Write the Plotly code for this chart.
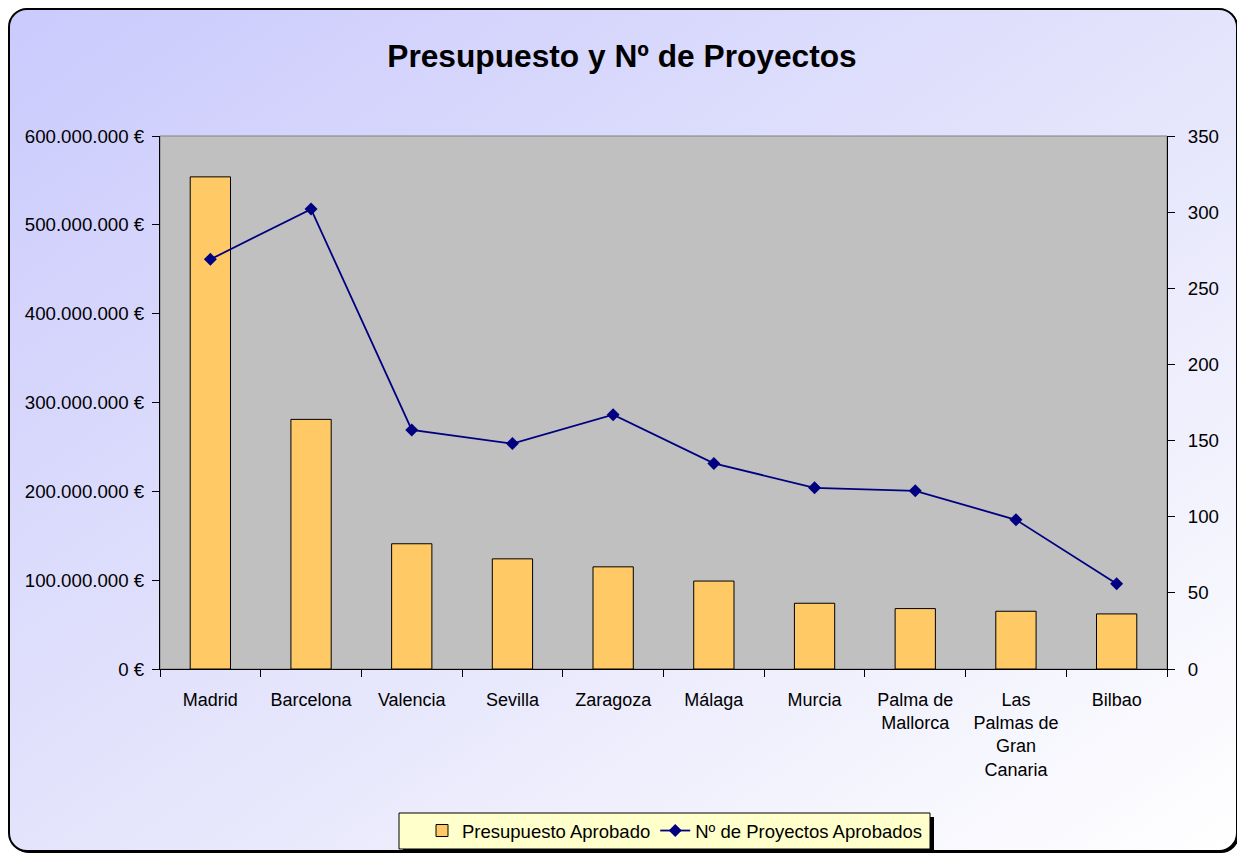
import base64
import plotly.graph_objects as go

# ---------------- data ----------------
cities = ["Madrid", "Barcelona", "Valencia", "Sevilla", "Zaragoza", "Málaga",
          "Murcia", "Palma de<br>Mallorca", "Las<br>Palmas de<br>Gran<br>Canaria", "Bilbao"]
budget = [554e6, 281e6, 141e6, 124e6, 115e6, 99e6, 74e6, 68e6, 65e6, 62e6]
projects = [269, 302, 157, 148, 167, 135, 119, 117, 98, 56]

title_text = "Presupuesto y Nº de Proyectos"
bar_name = "Presupuesto Aprobado"
line_name = "Nº de Proyectos Aprobados"

# ---------------- geometry (screen pixels; page body has an 8px margin) ----------------
OFF = 8
W, H = 1245 - OFF, 854 - OFF
L, R, T, B = 160 - OFF, 1167 - OFF, 136 - OFF, 669 - OFF
PW, PH = R - L, B - T


def px(x):
    return (x - OFF - L) / PW


def py(y):
    return (B - (y - OFF)) / PH


FONT = "Liberation Sans, Arial, sans-serif"

svg = f'''<svg xmlns="http://www.w3.org/2000/svg" width="{W}" height="{H}" viewBox="0 0 {W} {H}" preserveAspectRatio="none">
<defs><linearGradient id="g" x1="0" y1="0" x2="1" y2="1">
<stop offset="0" stop-color="#CACAFD"/><stop offset="0.55" stop-color="#E6E6FC"/><stop offset="1" stop-color="#FFFFFF"/>
</linearGradient></defs>
<rect x="3" y="3" width="1228" height="842" rx="18" ry="18" fill="#000000"/>
<rect x="1" y="1" width="1228" height="842" rx="18" ry="18" fill="url(#g)" stroke="#000000" stroke-width="2"/>
</svg>'''
src = "data:image/svg+xml;base64," + base64.b64encode(svg.encode()).decode()

fig = go.Figure()
fig.add_trace(go.Bar(
    x=cities, y=budget, name=bar_name,
    marker=dict(color="#FFCA66", line=dict(color="#000000", width=1)),
    yaxis="y",
))
fig.add_trace(go.Scatter(
    x=cities, y=projects, name=line_name, mode="lines+markers",
    line=dict(color="#000080", width=1.8),
    marker=dict(symbol="diamond", size=10, color="#000080"),
    yaxis="y2", cliponaxis=False,
))

fig.update_layout(
    width=W, height=H,
    margin=dict(l=L, r=W - R, t=T, b=H - B, pad=0, autoexpand=False),
    paper_bgcolor="#FFFFFF",
    plot_bgcolor="rgba(0,0,0,0)",
    separators=",.",
    font=dict(family=FONT, size=18, color="#000000"),
    title=dict(text="<b>" + title_text + "</b>", x=(622 - OFF) / W, xref="container",
               y=1 - (56 - OFF) / H, yanchor="middle", yref="container",
               font=dict(family=FONT, size=31.7, color="#000000")),
    bargap=0.6,
    showlegend=True,
    legend=dict(orientation="h", x=px(675), xanchor="center", y=py(831), yanchor="middle",
                bgcolor="rgba(0,0,0,0)", borderwidth=0,
                font=dict(family=FONT, size=18.5, color="#000000"),
                itemwidth=30, tracegroupgap=0),
    xaxis=dict(range=[-0.5, len(cities) - 0.5],
               showgrid=False, zeroline=False, showline=True, linecolor="#000000", linewidth=1,
               ticks="outside", tickson="boundaries", ticklen=7, tickcolor="#000000",
               ticklabelstandoff=14, tickfont=dict(size=18), automargin=False),
    yaxis=dict(range=[0, 600e6], dtick=100e6, tickformat=",.0f", ticksuffix=" €",
               showgrid=False, zeroline=False, showline=True, linecolor="#000000", linewidth=1,
               ticks="outside", ticklen=7, tickcolor="#000000", ticklabelstandoff=4,
               tickfont=dict(size=18.7), automargin=False),
    yaxis2=dict(range=[0, 350], dtick=50, overlaying="y", side="right",
                showgrid=False, zeroline=False, showline=True, linecolor="#000000", linewidth=1,
                ticks="outside", ticklen=7, tickcolor="#000000", ticklabelstandoff=9,
                tickfont=dict(size=18.7), automargin=False),
    images=[dict(source=src, xref="paper", yref="paper", x=px(OFF), y=py(OFF),
                 sizex=W / PW, sizey=H / PH, xanchor="left", yanchor="top",
                 sizing="stretch", layer="below")],
    shapes=[
        # plot area
        dict(type="rect", xref="paper", yref="paper", x0=0, x1=1, y0=0, y1=1,
             fillcolor="#C0C0C0", line=dict(color="#808080", width=1), layer="below"),
        # legend shadow
        dict(type="rect", xref="paper", yref="paper", x0=px(403), x1=px(934), y0=py(853), y1=py(817),
             fillcolor="#000000", line=dict(width=0), layer="above"),
        # legend box
        dict(type="rect", xref="paper", yref="paper", x0=px(399), x1=px(930), y0=py(849), y1=py(813),
             fillcolor="#FFFFCC", line=dict(color="#000000", width=1), layer="above"),
    ],
)

fig.write_html("out.html", config={"displayModeBar": False})
